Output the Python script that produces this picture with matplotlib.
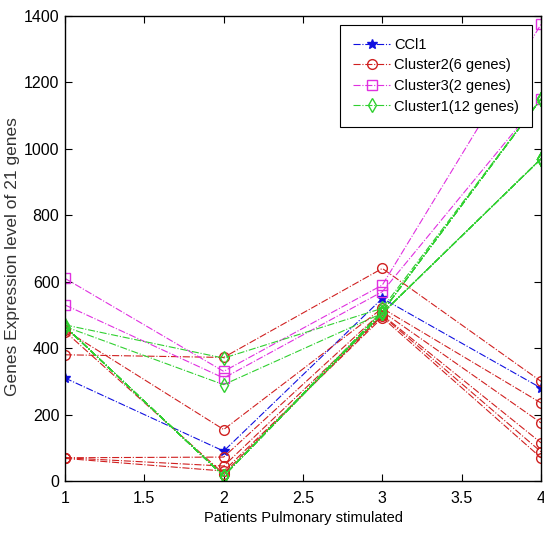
import matplotlib
matplotlib.use("Agg")
import matplotlib.pyplot as plt

plt.rcParams['font.family'] = ['Liberation Sans', 'DejaVu Sans']

patients = [1, 2, 3, 4]

ccl1 = [310, 90, 550, 280]

cluster2 = [
    [380, 372, 640, 300],
    [455, 155, 520, 235],
    [70, 72, 510, 175],
    [70, 45, 500, 115],
    [450, 22, 498, 88],
    [68, 30, 492, 70],
]

cluster3 = [
    [610, 330, 590, 1375],
    [530, 310, 570, 1150],
]

cluster1 = [
    [470, 370, 520, 1150],
    [465, 290, 505, 970],
    [465, 15, 510, 1150],
    [465, 15, 510, 1150],
    [465, 15, 510, 1150],
    [465, 15, 510, 1150],
    [465, 15, 510, 1150],
    [465, 15, 505, 970],
    [465, 15, 505, 970],
    [465, 15, 505, 970],
    [465, 15, 505, 970],
    [465, 15, 505, 970],
]

labels = ['CCl1', 'Cluster2(6 genes)', 'Cluster3(2 genes)', 'Cluster1(12 genes)']
blue = '#1010e0'
red = '#d02020'
mag = '#e030e0'
green = '#30d030'

fig = plt.figure(figsize=(5.44, 5.34), dpi=100)
ax = fig.add_axes([65/544, 1 - 481/534, (541-65)/544, (481-16)/534])

lw = 0.8
ms = 7
h1, = ax.plot(patients, ccl1, linestyle='-.', marker='*', color=blue, lw=lw, ms=ms)
h2 = None
for row in cluster2:
    h2, = ax.plot(patients, row, linestyle='-.', marker='o', color=red, mfc='none', lw=lw, ms=ms)
h3 = None
for row in cluster3:
    h3, = ax.plot(patients, row, linestyle='-.', marker='s', color=mag, mfc='none', lw=lw, ms=ms)
h4 = None
for row in cluster1:
    h4, = ax.plot(patients, row, linestyle='-.', marker='d', color=green, mfc='none', lw=lw, ms=ms)

ax.set_xlim(1, 4)
ax.set_ylim(0, 1400)
ax.set_xticks([1, 1.5, 2, 2.5, 3, 3.5, 4])
ax.set_xticklabels(['1', '1.5', '2', '2.5', '3', '3.5', '4'])
ax.set_yticks(range(0, 1401, 200))
ax.tick_params(direction='in', top=True, right=True, labelsize=11.5, length=5, width=0.8)
ax.tick_params(axis='x', pad=7)
ax.tick_params(axis='y', pad=4)
for s in ax.spines.values():
    s.set_linewidth(1.0)

ax.set_xlabel('Patients Pulmonary stimulated', fontsize=10.5, labelpad=4)
ax.set_ylabel('Genes Expression level of 21 genes', fontsize=12.5, color='#333333')
ax.yaxis.set_label_coords(-0.094, 0.482)

leg = ax.legend([h1, h2, h3, h4], labels, loc='upper right', fontsize=10.5,
                frameon=True, fancybox=False, edgecolor='black', framealpha=1,
                borderaxespad=0.6, handlelength=2.5, handletextpad=0.3,
                labelspacing=0.45, borderpad=0.9)
leg.get_frame().set_linewidth(0.8)

fig.savefig('out.png', dpi=100)
